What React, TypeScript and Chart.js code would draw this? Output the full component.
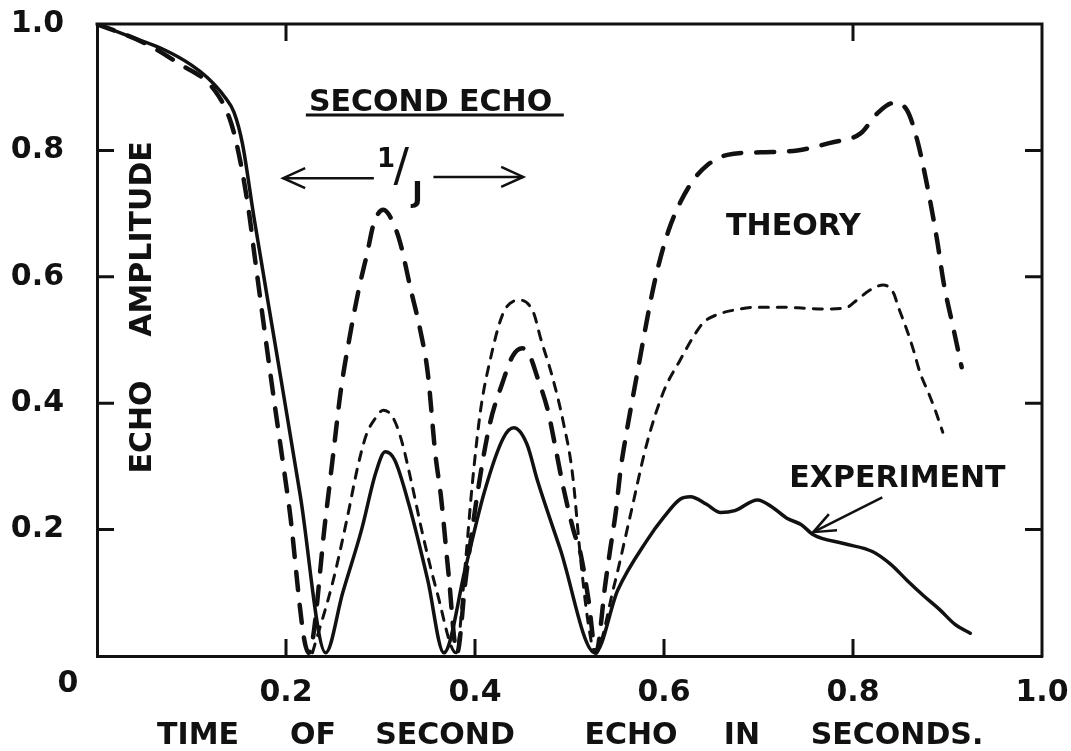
import { useEffect, useRef } from 'react';
import { Chart, registerables } from 'chart.js';

Chart.register(...registerables);

// ---------- data ----------
const experimentX = [0, 0.035, 0.07, 0.1, 0.117, 0.135, 0.145, 0.154, 0.166, 0.19, 0.215, 0.242, 0.26, 0.28, 0.295, 0.305, 0.315, 0.33, 0.35, 0.367, 0.39, 0.41, 0.43, 0.441, 0.455, 0.466, 0.49, 0.527, 0.551, 0.582, 0.6, 0.617, 0.628, 0.645, 0.66, 0.675, 0.699, 0.715, 0.73, 0.745, 0.758, 0.79, 0.821, 0.84, 0.857, 0.875, 0.892, 0.908, 0.924];
const experimentY = [1.0, 0.98, 0.96, 0.935, 0.915, 0.885, 0.86, 0.81, 0.695, 0.48, 0.255, 0.005, 0.1, 0.2, 0.29, 0.323, 0.31, 0.24, 0.12, 0.005, 0.14, 0.26, 0.345, 0.361, 0.335, 0.278, 0.17, 0.005, 0.104, 0.183, 0.22, 0.248, 0.252, 0.24, 0.227, 0.23, 0.247, 0.235, 0.218, 0.208, 0.192, 0.178, 0.165, 0.145, 0.12, 0.095, 0.073, 0.05, 0.036];

const theoryAX = [0, 0.05, 0.086, 0.124, 0.142, 0.152, 0.161, 0.166, 0.185, 0.203, 0.224, 0.242, 0.25, 0.258, 0.268, 0.277, 0.286, 0.293, 0.303, 0.312, 0.321, 0.332, 0.342, 0.35, 0.358, 0.364, 0.372, 0.381, 0.39, 0.405, 0.416, 0.429, 0.44, 0.45, 0.458, 0.466, 0.477, 0.485, 0.493, 0.504, 0.512, 0.52, 0.528, 0.538, 0.543, 0.549, 0.554, 0.559, 0.572, 0.586, 0.593, 0.605, 0.617, 0.631, 0.646, 0.667, 0.702, 0.741, 0.776, 0.808, 0.826, 0.843, 0.857, 0.868, 0.878, 0.889, 0.896, 0.906, 0.915];
const theoryAY = [1.0, 0.97, 0.938, 0.896, 0.843, 0.78, 0.7, 0.642, 0.43, 0.24, 0.005, 0.22, 0.32, 0.42, 0.51, 0.58, 0.638, 0.685, 0.706, 0.69, 0.653, 0.58, 0.516, 0.448, 0.32, 0.252, 0.13, 0.005, 0.12, 0.28, 0.369, 0.432, 0.475, 0.487, 0.475, 0.441, 0.389, 0.331, 0.27, 0.2, 0.16, 0.09, 0.005, 0.115, 0.168, 0.228, 0.294, 0.342, 0.45, 0.563, 0.611, 0.674, 0.717, 0.753, 0.777, 0.793, 0.797, 0.8, 0.812, 0.827, 0.859, 0.875, 0.864, 0.816, 0.748, 0.658, 0.59, 0.52, 0.457];

const theoryBX = [0.228, 0.25, 0.265, 0.276, 0.285, 0.294, 0.303, 0.314, 0.323, 0.332, 0.345, 0.36, 0.38, 0.39, 0.397, 0.406, 0.416, 0.43, 0.448, 0.462, 0.469, 0.482, 0.493, 0.503, 0.512, 0.52, 0.527, 0.547, 0.564, 0.582, 0.6, 0.617, 0.631, 0.642, 0.656, 0.673, 0.699, 0.726, 0.752, 0.773, 0.794, 0.804, 0.818, 0.832, 0.843, 0.848, 0.857, 0.864, 0.871, 0.88, 0.887, 0.895];
const theoryBY = [0.005, 0.12, 0.22, 0.3, 0.35, 0.375, 0.389, 0.375, 0.337, 0.28, 0.19, 0.1, 0.005, 0.15, 0.27, 0.39, 0.468, 0.543, 0.563, 0.543, 0.505, 0.441, 0.373, 0.29, 0.15, 0.05, 0.005, 0.11, 0.22, 0.337, 0.42, 0.468, 0.505, 0.528, 0.54, 0.547, 0.552, 0.552, 0.55, 0.549, 0.552, 0.563, 0.579, 0.587, 0.574, 0.552, 0.516, 0.484, 0.448, 0.416, 0.389, 0.354];

const xTickValues = [0, 0.2, 0.4, 0.6, 0.8, 1.0];
const xTickLabels = ['', '0.2', '0.4', '0.6', '0.8', '1.0'];
const yTickValues = [0, 0.2, 0.4, 0.6, 0.8, 1.0];
const yTickLabels = ['', '0.2', '0.4', '0.6', '0.8', '1.0'];
const innerTicksX = [0.2, 0.4, 0.6, 0.8];
const innerTicksY = [0.2, 0.4, 0.6, 0.8];
const topTicksX = [0.2, 0.8];
const originLabel = '0';
const xTitleWords = ['TIME', 'OF', 'SECOND', 'ECHO', 'IN', 'SECONDS.'];
const yTitleWords = ['ECHO', 'AMPLITUDE'];

// ---------- style / layout ----------
const INK = '#111111';
const FONT = "'DejaVu Sans', sans-serif";
const W = 1071;
const H = 751;
const AREA = { left: 97, top: 24, right: 1042, bottom: 656 };

const pts = (xs: number[], ys: number[]) => xs.map((x, i) => ({ x, y: ys[i] }));

const labelFor = (vals: number[], labels: string[], v: number) => {
  const i = vals.findIndex((t) => Math.abs(t - v) < 1e-6);
  return i >= 0 ? labels[i] : '';
};

// fixed scale box sizes; drop edge-label overflow so the plot area sits exactly at AREA
const fixBox = (size: { width?: number; height?: number }) => (s: any) => {
  if (size.width !== undefined) s.width = size.width;
  if (size.height !== undefined) s.height = size.height;
  s.paddingTop = 0;
  s.paddingBottom = 0;
  s.paddingLeft = 0;
  s.paddingRight = 0;
};

function drawText(ctx: CanvasRenderingContext2D, s: string, x: number, y: number, size: number, weight = 'bold') {
  ctx.font = `${weight} ${size}px ${FONT}`;
  ctx.textAlign = 'center';
  ctx.textBaseline = 'middle';
  ctx.fillStyle = INK;
  ctx.fillText(s, x, y);
}

function arrowHead(ctx: CanvasRenderingContext2D, tipX: number, tipY: number, fromX: number, fromY: number, len: number, half: number) {
  const ang = Math.atan2(tipY - fromY, tipX - fromX);
  const bx = tipX - Math.cos(ang) * len;
  const by = tipY - Math.sin(ang) * len;
  const nx = -Math.sin(ang) * half;
  const ny = Math.cos(ang) * half;
  ctx.beginPath();
  ctx.moveTo(bx + nx, by + ny);
  ctx.lineTo(tipX, tipY);
  ctx.lineTo(bx - nx, by - ny);
  ctx.stroke();
}

const overlay = {
  id: 'overlay',
  afterDraw(chart: any) {
    const { ctx, chartArea: a, scales } = chart;
    const xs = scales.x;
    const ys = scales.y;
    const px = (v: number) => xs.getPixelForValue(v);
    const py = (v: number) => ys.getPixelForValue(v);
    ctx.save();
    ctx.strokeStyle = INK;
    ctx.lineWidth = 3;
    ctx.lineCap = 'square';
    // top + right frame
    ctx.beginPath();
    ctx.moveTo(a.left, a.top);
    ctx.lineTo(a.right, a.top);
    ctx.lineTo(a.right, a.bottom);
    ctx.stroke();
    // inward tick marks
    const TL = 17;
    ctx.lineCap = 'butt';
    ctx.beginPath();
    innerTicksX.forEach((v) => {
      ctx.moveTo(px(v), a.bottom);
      ctx.lineTo(px(v), a.bottom - TL);
    });
    topTicksX.forEach((v) => {
      ctx.moveTo(px(v), a.top);
      ctx.lineTo(px(v), a.top + TL);
    });
    innerTicksY.forEach((v) => {
      ctx.moveTo(a.left, py(v));
      ctx.lineTo(a.left + TL, py(v));
      ctx.moveTo(a.right, py(v));
      ctx.lineTo(a.right - TL, py(v));
    });
    ctx.stroke();

    // origin label
    drawText(ctx, originLabel, a.left - 29, a.bottom + 28, 30);

    // x axis title, word by word
    const xWordCenters = [198, 313, 445, 631, 742, 897];
    xTitleWords.forEach((w, i) => drawText(ctx, w, xWordCenters[i], 736, 30));

    // y axis title (rotated, inside the plot)
    ctx.save();
    ctx.translate(143, 0);
    ctx.rotate(-Math.PI / 2);
    drawText(ctx, yTitleWords[0], -427, 0, 30);
    drawText(ctx, yTitleWords[1], -239, 0, 30);
    ctx.restore();

    // SECOND ECHO, underlined
    drawText(ctx, 'SECOND ECHO', px(0.353), py(0.875), 30);
    ctx.lineWidth = 3;
    ctx.beginPath();
    ctx.moveTo(px(0.221), py(0.856));
    ctx.lineTo(px(0.494), py(0.856));
    ctx.stroke();

    // 1/J with arrows
    drawText(ctx, '1', px(0.306), py(0.785), 26);
    drawText(ctx, '/', px(0.322), py(0.77), 46, 'normal');
    drawText(ctx, 'J', px(0.339), py(0.73), 28);
    ctx.lineWidth = 2.5;
    ctx.beginPath();
    ctx.moveTo(px(0.293), py(0.756));
    ctx.lineTo(px(0.197), py(0.756));
    ctx.stroke();
    arrowHead(ctx, px(0.197), py(0.756), px(0.293), py(0.756), 22, 10);
    ctx.beginPath();
    ctx.moveTo(px(0.356), py(0.758));
    ctx.lineTo(px(0.451), py(0.758));
    ctx.stroke();
    arrowHead(ctx, px(0.451), py(0.758), px(0.356), py(0.758), 22, 10);

    // THEORY / EXPERIMENT labels
    drawText(ctx, 'THEORY', px(0.737), py(0.679), 30);
    drawText(ctx, 'EXPERIMENT', px(0.847), py(0.280), 30);
    ctx.lineWidth = 2.5;
    ctx.beginPath();
    ctx.moveTo(px(0.831), py(0.251));
    ctx.lineTo(px(0.758), py(0.196));
    ctx.stroke();
    arrowHead(ctx, px(0.758), py(0.196), px(0.831), py(0.251), 22, 9);
    ctx.restore();
  },
};

export default function App() {
  const ref = useRef<HTMLCanvasElement | null>(null);

  useEffect(() => {
    if (!ref.current) return;
    const chart: any = new Chart(ref.current, {
      type: 'scatter',
      data: {
        datasets: [
          { label: 'Experiment', data: pts(experimentX, experimentY), showLine: true, borderColor: INK, borderWidth: 3.5, pointRadius: 0, cubicInterpolationMode: 'monotone', borderJoinStyle: 'round', borderCapStyle: 'round' },
          { label: 'Theory (long dash)', data: pts(theoryAX, theoryAY), showLine: true, borderColor: INK, borderWidth: 4.5, borderDash: [18, 15], borderCapStyle: 'round', pointRadius: 0, cubicInterpolationMode: 'monotone' },
          { label: 'Theory (short dash)', data: pts(theoryBX, theoryBY), showLine: true, borderColor: INK, borderWidth: 3, borderDash: [9, 9], borderCapStyle: 'round', pointRadius: 0, cubicInterpolationMode: 'monotone' },
        ],
      },
      options: {
        responsive: false,
        animation: false,
        devicePixelRatio: 1,
        layout: { padding: { left: 0, top: AREA.top, right: W - AREA.right, bottom: 0 } },
        plugins: { legend: { display: false }, tooltip: { enabled: false } },
        scales: {
          x: {
            type: 'linear', min: 0, max: 1,
            afterFit: fixBox({ height: H - AREA.bottom }),
            grid: { display: false },
            border: { display: true, color: INK, width: 3 },
            ticks: { stepSize: 0.2, padding: 11, color: INK, font: { family: FONT, size: 30, weight: 'bold' }, maxRotation: 0, autoSkip: false, callback: (v: any) => labelFor(xTickValues, xTickLabels, Number(v)) },
          },
          y: {
            type: 'linear', min: 0, max: 1,
            afterFit: fixBox({ width: AREA.left }),
            grid: { display: false },
            border: { display: true, color: INK, width: 3 },
            ticks: { stepSize: 0.2, padding: 25, color: INK, font: { family: FONT, size: 30, weight: 'bold' }, callback: (v: any) => labelFor(yTickValues, yTickLabels, Number(v)) },
          },
        },
      } as any,
      plugins: [overlay],
    });
    return () => chart.destroy();
  }, []);

  return (
    <div style={{ position: 'fixed', left: 0, top: 0, width: W, height: H, background: '#fff' }}>
      <canvas ref={ref} width={W} height={H} style={{ display: 'block', width: W, height: H }} />
    </div>
  );
}
